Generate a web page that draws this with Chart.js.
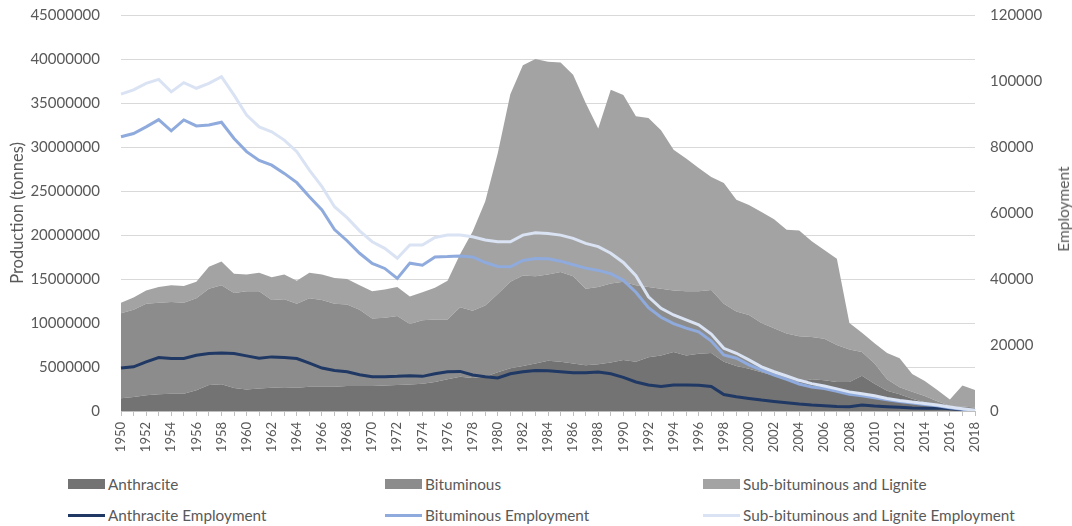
<!DOCTYPE html>
<html>
<head>
<meta charset="utf-8">
<script src="https://cdn.jsdelivr.net/npm/chart.js@4.4.1/dist/chart.umd.min.js"></script>
<style>
  body { margin: 0; background: #fff; font-family: Lato, sans-serif; }
  #wrap { position: relative; width: 1072px; height: 526px; overflow: hidden; }
  #chart { position: absolute; left: 0; top: 0; }
  .rtitle { position: absolute; left: 1063px; top: 209px; transform: translate(-50%, -50%) rotate(-90deg);
            font-size: 15.5px; color: #595959; white-space: nowrap; }
  .item { position: absolute; height: 20px; display: flex; align-items: center; font-size: 15.3px; color: #595959; white-space: nowrap; }
  .swatch { width: 37px; margin-right: 3px; }
</style>
</head>
<body>
<div id="wrap">
  <canvas id="chart" width="1072" height="470"></canvas>
  <div class="rtitle">Employment</div>
  <div id="legend"></div>
</div>
<script>
// years 1950..2018
const years = [];
for (let y = 1950; y <= 2018; y++) years.push(String(y));

// production, tonnes (stacked areas)
const anthracite = [
  1450000,1600000,1800000,1900000,1950000,1950000,2350000,2950000,3050000,2600000,
  2450000,2550000,2650000,2700000,2650000,2750000,2750000,2750000,2850000,2850000,
  2850000,2900000,2950000,3000000,3100000,3300000,3600000,3900000,3750000,3900000,
  4400000,4850000,5100000,5400000,5700000,5600000,5400000,5200000,5300000,5500000,
  5800000,5600000,6100000,6300000,6700000,6300000,6500000,6600000,5600000,5100000,
  4800000,4400000,4000000,3600000,3300000,3600000,3500000,3300000,3300000,4000000,
  3100000,2300000,1900000,1400000,1000000,600000,300000,250000,200000
];
const bituminous = [
  9650000,9900000,10400000,10400000,10450000,10350000,10450000,10950000,11250000,10800000,
  11150000,11050000,9950000,10000000,9550000,10050000,9850000,9450000,9250000,8650000,
  7650000,7700000,7850000,6900000,7200000,7100000,6800000,7900000,7650000,8100000,
  8900000,9850000,10300000,9900000,9800000,10200000,9900000,8700000,8800000,9000000,
  8900000,8700000,8000000,7600000,7000000,7300000,7100000,7150000,6600000,6200000,
  6100000,5600000,5400000,5200000,5200000,4800000,4700000,4200000,3700000,2700000,
  2300000,1300000,800000,800000,700000,500000,300000,250000,200000
];
const subBitLignite = [
  1200000,1400000,1500000,1800000,1900000,1900000,1900000,2500000,2700000,2200000,
  1900000,2100000,2600000,2800000,2600000,2900000,2900000,2900000,2900000,2800000,
  3100000,3200000,3300000,3100000,3200000,3600000,4400000,6000000,9000000,11800000,
  16000000,21300000,23900000,24700000,24200000,23800000,22900000,21100000,18000000,22000000,
  21200000,19200000,19200000,18000000,16000000,15100000,14000000,12850000,13700000,12700000,
  12500000,12600000,12400000,11800000,12000000,10900000,10100000,9800000,3000000,2200000,
  2300000,3000000,3300000,2000000,1700000,1300000,700000,2400000,2000000
];

// employment (as plotted on the right axis)
const anthracitePeople = [
  13000,13400,14900,16200,15900,15900,16900,17400,17600,17400,
  16700,16000,16400,16200,15900,14500,13000,12300,11900,11000,
  10400,10400,10500,10700,10500,11300,11900,12000,10900,10400,
  10000,11300,11900,12300,12200,11900,11600,11600,11800,11300,
  10200,8800,7900,7400,7900,7900,7800,7400,5000,4300,
  3800,3300,2900,2500,2100,1800,1600,1400,1300,1800,
  1500,1300,1100,900,800,900,700,400,100
];
const bituminousPeople = [
  83100,84100,86100,88300,84900,88200,86400,86700,87500,82600,
  78600,75900,74500,72000,69200,64900,60900,55000,51600,47800,
  44700,43200,40200,44800,44200,46700,46800,47000,46700,45000,
  43800,43700,45600,46200,46100,45400,44300,43300,42600,41600,
  39600,36000,31300,28400,26500,25100,24000,21200,17000,16000,
  14000,12400,10900,9600,8200,7300,6800,6000,5100,4600,
  4000,3400,2900,2400,2000,1600,1000,500,100
];
const subBitPeople = [
  96000,97300,99300,100500,96700,99500,97800,99300,101300,95700,
  89700,86100,84600,82100,78600,73000,68000,61900,58600,54600,
  51300,49300,46300,50300,50300,52600,53300,53300,52800,51800,
  51300,51300,53300,54000,53800,53300,52300,50800,49800,47800,
  45000,41000,34600,31100,29100,27600,26100,23300,19000,17500,
  15500,13400,11900,10600,9300,8300,7600,6700,5800,5200,
  4600,3800,3200,2700,2300,1800,1200,700,200
];

const leftTicks = [0, 45000000, 5000000];   // min, max, step
const rightTicks = [0, 120000, 20000];

const textColor = '#595959';
const font = 'Lato';

function area(label, data, color, fill) {
  return { label, data, type: 'line', yAxisID: 'y', backgroundColor: color, borderColor: color,
           borderWidth: 0, pointRadius: 0, fill, order: 2, tension: 0 };
}
function line(label, data, color) {
  return { label, data, type: 'line', yAxisID: 'y1', borderColor: color, backgroundColor: color,
           borderWidth: 3, pointRadius: 0, fill: false, order: 1, tension: 0 };
}

const datasets = [
  area('Anthracite', anthracite, '#737373', 'origin'),
  area('Bituminous', bituminous, '#8c8c8c', '-1'),
  area('Sub-bituminous and Lignite', subBitLignite, '#a3a3a3', '-1'),
  line('Anthracite Employment', anthracitePeople, '#203864'),
  line('Bituminous Employment', bituminousPeople, '#8faadc'),
  line('Sub-bituminous and Lignite Employment', subBitPeople, '#dae3f3')
];
// draw order: light line on top of the others
datasets[3].order = 0.3; datasets[4].order = 0.2; datasets[5].order = 0.1;

// tick padding also pads the chart top in Chart.js, so the label gap comes from
// an invisible tick mark instead
const chart = new Chart(document.getElementById('chart'), {
  type: 'line',
  data: { labels: years, datasets },
  options: {
    responsive: false,
    animation: false,
    layout: { padding: { top: 15, left: 0, right: 0, bottom: 0 } },
    plugins: { legend: { display: false }, tooltip: { enabled: false } },
    scales: {
      x: {
        offset: false,
        grid: { display: true, drawOnChartArea: false, drawTicks: true, tickLength: 5, color: '#bfbfbf' },
        border: { color: '#bfbfbf' },
        ticks: {
          autoSkip: false, minRotation: 90, maxRotation: 90, padding: 6,
          color: textColor, font: { family: font, size: 13 },
          callback: (v, i) => (i % 2 === 0 ? years[i] : '')
        },
        afterFit: s => { s.height = 59; }
      },
      y: {
        stacked: true,
        min: leftTicks[0], max: leftTicks[1],
        grid: { color: '#d9d9d9', drawTicks: true, tickLength: 21, tickColor: 'rgba(0,0,0,0)' },
        border: { display: false },
        ticks: { stepSize: leftTicks[2], padding: 0, color: textColor, font: { family: font, size: 15 },
                 callback: v => String(v) },
        title: { display: true, text: 'Production (tonnes)', color: textColor,
                 font: { family: font, size: 16.5 }, padding: { top: 8, bottom: 0 } },
        afterFit: s => { s.width = 121; }
      },
      y1: {
        position: 'right',
        min: rightTicks[0], max: rightTicks[1],
        grid: { drawOnChartArea: false, drawTicks: true, tickLength: 15, tickColor: 'rgba(0,0,0,0)' },
        border: { display: false },
        ticks: { stepSize: rightTicks[2], padding: 0, color: textColor, font: { family: font, size: 15 },
                 callback: v => String(v) },
        afterFit: s => { s.width = 97; }
      }
    }
  }
});

// legend laid out in three columns, two rows, like the original
const legend = document.getElementById('legend');
const colX = [68, 385, 703];
const rowY = [474, 505];
chart.data.datasets.forEach((ds, i) => {
  const item = document.createElement('div');
  item.className = 'item';
  item.style.left = colX[i % 3] + 'px';
  item.style.top = rowY[Math.floor(i / 3)] + 'px';
  const sw = document.createElement('span');
  sw.className = 'swatch';
  if (ds.yAxisID === 'y') {
    sw.style.height = '10px';
    sw.style.background = ds.backgroundColor;
  } else {
    sw.style.height = '3px';
    sw.style.background = ds.borderColor;
  }
  item.appendChild(sw);
  item.appendChild(document.createTextNode(ds.label));
  legend.appendChild(item);
});
</script>
</body>
</html>
